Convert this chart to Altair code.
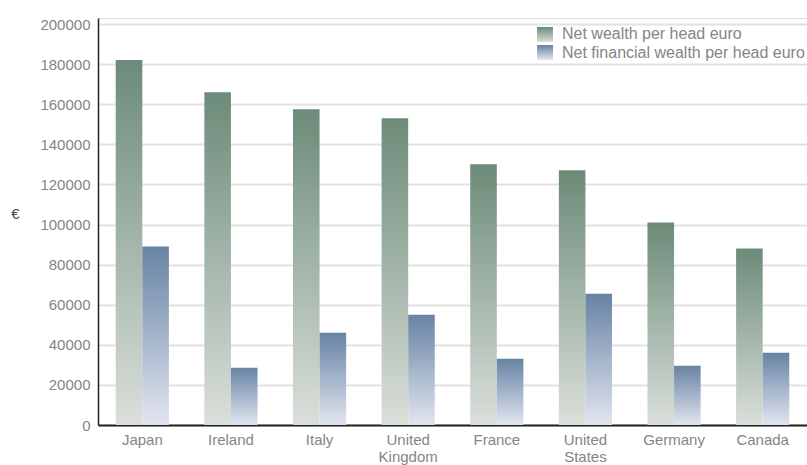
import altair as alt
import pandas as pd

countries = ["Japan", "Ireland", "Italy", "United Kingdom", "France",
             "United States", "Germany", "Canada"]
net_wealth = [182000, 166000, 157500, 153000, 130000, 127000, 101000, 88000]
net_financial = [89000, 28500, 46000, 55000, 33000, 65500, 29500, 36000]
series = ["Net wealth per head euro", "Net financial wealth per head euro"]
y_ticks = [0, 20000, 40000, 60000, 80000, 100000, 120000, 140000, 160000, 180000, 200000]

rows = []
for c, a, b in zip(countries, net_wealth, net_financial):
    rows.append({"country": c, "series": series[0], "value": a})
    rows.append({"country": c, "series": series[1], "value": b})
df = pd.DataFrame(rows)
legend_df = pd.DataFrame({"series": series})

green = alt.Gradient(gradient="linear", x1=0, y1=0, x2=0, y2=1,
                     stops=[alt.GradientStop(color="#6c8b79", offset=0),
                            alt.GradientStop(color="#dadfda", offset=1)])
blue = alt.Gradient(gradient="linear", x1=0, y1=0, x2=0, y2=1,
                    stops=[alt.GradientStop(color="#6783a4", offset=0),
                           alt.GradientStop(color="#e2e5ef", offset=1)])

FONT = "Liberation Sans"
GRAY = "#858585"

bars = alt.Chart(df).mark_bar().encode(
    x=alt.X("country:N", sort=countries, title=None,
            scale=alt.Scale(paddingInner=0.4, paddingOuter=0.2),
            axis=alt.Axis(labelAngle=0, labelFont=FONT, labelFontSize=15,
                          labelColor=GRAY, labelPadding=7, ticks=False,
                          domainColor="#222222", domainWidth=2,
                          labelExpr="split(datum.label, ' ')", labelLineHeight=17)),
    xOffset=alt.XOffset("series:N", sort=series),
    y=alt.Y("value:Q", title="€",
            scale=alt.Scale(domain=[0, 203000], nice=False),
            axis=alt.Axis(values=y_ticks, format="d", labelFont=FONT, labelFontSize=15,
                          labelColor=GRAY, labelPadding=8, ticks=False,
                          domainColor="#222222", domainWidth=1.5,
                          gridColor="#e2e2e2", gridWidth=1.8,
                          titleAngle=0, titleX=-83, titleY=195,
                          titleAlign="center", titleBaseline="middle",
                          titleFont=FONT, titleFontSize=15,
                          titleFontWeight="normal", titleColor="#444444")),
    color=alt.condition(alt.datum.series == series[0], alt.value(green), alt.value(blue)),
)

leg_rect1 = alt.Chart(legend_df).transform_filter(alt.datum.series == series[0]).mark_rect(
    fill=green).encode(x=alt.value(439), x2=alt.value(455), y=alt.value(9), y2=alt.value(24))
leg_rect2 = alt.Chart(legend_df).transform_filter(alt.datum.series == series[1]).mark_rect(
    fill=blue).encode(x=alt.value(439), x2=alt.value(455), y=alt.value(27), y2=alt.value(42))
leg_text1 = alt.Chart(legend_df).transform_filter(alt.datum.series == series[0]).mark_text(
    align="left", baseline="middle", font=FONT, fontSize=16, color=GRAY).encode(
    x=alt.value(464), y=alt.value(16), text="series:N")
leg_text2 = alt.Chart(legend_df).transform_filter(alt.datum.series == series[1]).mark_text(
    align="left", baseline="middle", font=FONT, fontSize=16, color=GRAY).encode(
    x=alt.value(464), y=alt.value(35), text="series:N")

chart = alt.layer(bars, leg_rect1, leg_rect2, leg_text1, leg_text2).properties(
    width=709, height=407,
    autosize=alt.AutoSizeParams(type="none"),
    padding={"left": 98, "top": 18, "right": 0, "bottom": 40},
).configure_view(stroke=None).configure(background="white")

chart.save("out.html", embed_options={"renderer": "svg", "actions": False})
